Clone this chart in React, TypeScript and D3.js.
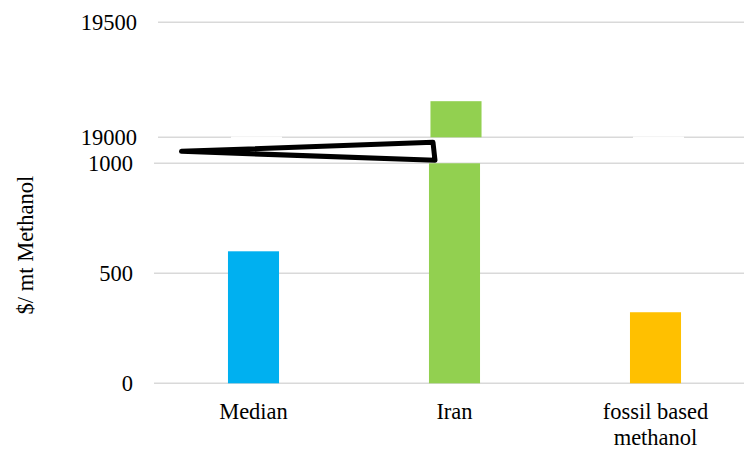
import React from "react";
import * as d3 from "d3";

const categories = ["Median", "Iran", "fossil based\nmethanol"];
const values = [600, 19157, 323];
const colors = ["#00B0F0", "#92D050", "#FFC000"];
const lowerTicks = [0, 500, 1000];
const upperTicks = [19000, 19500];

const W = 744;
const H = 450;
const FONT = '"Liberation Serif", "Times New Roman", Times, serif';

export default function App() {
  const x = d3.scaleBand<string>().domain(categories).range([153, 756]).paddingInner(0.746).paddingOuter(0.373);
  const yLow = d3.scaleLinear().domain([0, 1000]).range([383.3, 163.3]);
  const yUp = d3.scaleLinear().domain([19000, 19500]).range([137.3, 22.3]);
  const bw = x.bandwidth();

  const iranX = x(categories[1])!;
  const tipX = 181.5;
  const wedge = [
    [tipX, 151.3],
    [iranX + 4, yUp(19000) + 5],
    [iranX + 6, yLow(1000) - 3],
  ];

  const txt = { fontFamily: FONT, fontSize: "22.5px" };

  return (
    <svg width={W} height={H} style={{ position: "absolute", left: 0, top: 0, background: "#fff" }}>
      <rect x={0} y={0} width={W} height={H} fill="#fff" />
      {lowerTicks.map((t) => (
        <line key={"l" + t} x1={154} x2={W} y1={yLow(t)} y2={yLow(t)} stroke="#d9d9d9" strokeWidth={1.4} />
      ))}
      {upperTicks.map((t) => (
        <line key={"u" + t} x1={158} x2={W} y1={yUp(t)} y2={yUp(t)} stroke="#d9d9d9" strokeWidth={1.4} />
      ))}
      {categories.map((c, i) =>
        values[i] < 19000 ? (
          <g key={"gap" + i}>
            <rect x={x(c)! + 3} y={yUp(19000) - 1} width={bw} height={2.2} fill="#fff" />
            <line x1={x(c)! + 3} x2={x(c)! + 3 + bw} y1={yUp(19000) - 0.7} y2={yUp(19000) - 0.7} stroke="#f0f0f0" strokeWidth={0.8} />
          </g>
        ) : null
      )}
      {categories.map((c, i) => {
        const v = Math.min(values[i], 1000);
        return <rect key={"b" + i} x={x(c)!} y={yLow(v)} width={bw} height={yLow(0) - yLow(v)} fill={colors[i]} />;
      })}
      {categories.map((c, i) =>
        values[i] > 19000 ? (
          <rect key={"ub" + i} x={x(c)! + 1.5} y={yUp(values[i])} width={bw} height={yUp(19000) - yUp(values[i])} fill={colors[i]} />
        ) : null
      )}
      <polygon
        points={wedge.map((p) => p.join(",")).join(" ")}
        fill="#fff"
        stroke="#000"
        strokeWidth={5}
        strokeLinejoin="round"
      />
      {lowerTicks.map((t) => (
        <text key={"tl" + t} x={133} y={yLow(t)} dy="0.35em" textAnchor="end" style={txt} fill="#000">
          {t}
        </text>
      ))}
      {upperTicks.map((t) => (
        <text key={"tu" + t} x={137} y={yUp(t)} dy="0.35em" textAnchor="end" style={txt} fill="#000">
          {t}
        </text>
      ))}
      <text transform={`translate(33,245) rotate(-90)`} textAnchor="middle" style={txt} fill="#000">
        $/ mt Methanol
      </text>
      {categories.map((c, i) => {
        const lines = c.split("\n");
        const cx = x(c)! + bw / 2;
        return (
          <text key={"x" + i} x={cx} y={419} textAnchor="middle" style={txt} fill="#000">
            {lines.map((ln, j) => (
              <tspan key={j} x={cx} dy={j === 0 ? 0 : 26}>
                {ln}
              </tspan>
            ))}
          </text>
        );
      })}
    </svg>
  );
}
